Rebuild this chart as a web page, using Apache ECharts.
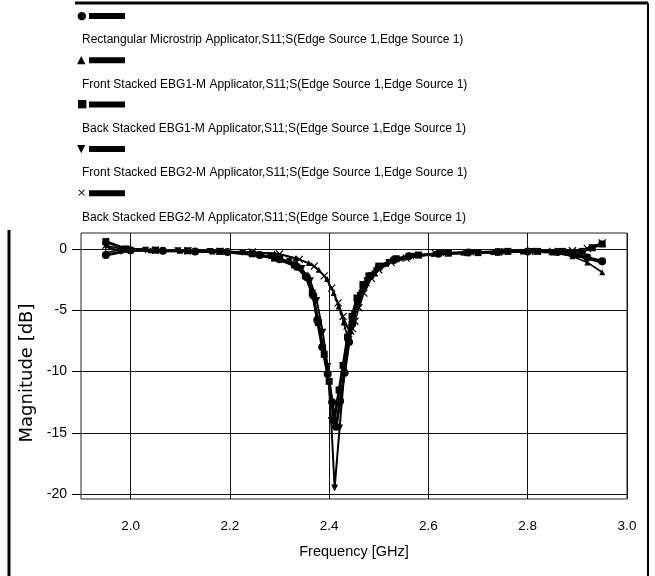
<!DOCTYPE html>
<html>
<head>
<meta charset="utf-8">
<script src="https://cdn.jsdelivr.net/npm/echarts@6/dist/echarts.min.js"></script>
<style>
html, body { margin: 0; padding: 0; background: #fff; }
#chart { width: 655px; height: 576px; }
</style>
</head>
<body>
<div id="chart"></div>
<script>
// axis ticks
var xTicks = [2.0, 2.2, 2.4, 2.6, 2.8, 3.0];
var yTicks = [0, -5, -10, -15, -20];

var names = [
    'Rectangular Microstrip Applicator,S11;S(Edge Source 1,Edge Source 1)',
    'Front Stacked EBG1-M Applicator,S11;S(Edge Source 1,Edge Source 1)',
    'Back Stacked EBG1-M Applicator,S11;S(Edge Source 1,Edge Source 1)',
    'Front Stacked EBG2-M Applicator,S11;S(Edge Source 1,Edge Source 1)',
    'Back Stacked EBG2-M Applicator,S11;S(Edge Source 1,Edge Source 1)'
];

// Rectangular (circle)
var freqRect = [1.95, 2.00, 2.065, 2.13, 2.195, 2.26, 2.30, 2.335, 2.355, 2.368, 2.376, 2.386, 2.397, 2.406, 2.414, 2.422, 2.431, 2.440, 2.447, 2.458, 2.470, 2.483, 2.50, 2.53, 2.56, 2.62, 2.68, 2.74, 2.80, 2.86, 2.89, 2.92, 2.95];
var s11Rect  = [-0.5, -0.1, -0.15, -0.2, -0.25, -0.5, -0.85, -1.45, -2.3, -3.8, -5.8, -8.0, -10.2, -12.5, -14.5, -12.4, -10.1, -7.6, -6.0, -4.2, -3.0, -2.2, -1.5, -0.9, -0.6, -0.4, -0.3, -0.25, -0.2, -0.25, -0.4, -0.7, -1.0];

// Front stacked EBG1 (triangle)
var freqF1 = [1.95, 1.985, 2.04, 2.10, 2.165, 2.23, 2.29, 2.332, 2.359, 2.379, 2.396, 2.409, 2.419, 2.429, 2.436, 2.439, 2.444, 2.449, 2.459, 2.476, 2.493, 2.515, 2.55, 2.61, 2.67, 2.73, 2.79, 2.85, 2.89, 2.92, 2.95];
var s11F1  = [-0.3, 0.0, -0.1, -0.15, -0.2, -0.25, -0.35, -0.75, -1.15, -1.7, -2.46, -3.6, -4.7, -6.0, -7.0, -7.3, -6.7, -5.8, -4.4, -2.8, -2.0, -1.2, -0.7, -0.4, -0.3, -0.25, -0.2, -0.3, -0.6, -1.1, -1.9];

// Back stacked EBG1 (square)
var freqB1 = [1.95, 1.99, 2.05, 2.115, 2.18, 2.245, 2.29, 2.33, 2.352, 2.366, 2.378, 2.39, 2.400, 2.410, 2.420, 2.428, 2.437, 2.446, 2.456, 2.468, 2.48, 2.50, 2.535, 2.58, 2.64, 2.70, 2.76, 2.82, 2.87, 2.91, 2.93, 2.95];
var s11B1  = [0.6, 0.0, -0.1, -0.15, -0.2, -0.4, -0.75, -1.3, -2.2, -3.6, -6.0, -8.6, -10.8, -14.0, -11.5, -9.5, -7.2, -5.5, -4.0, -2.9, -2.2, -1.4, -0.8, -0.5, -0.35, -0.3, -0.2, -0.2, -0.2, -0.2, 0.1, 0.4];

// Front stacked EBG2 (inverted triangle)
var freqF2 = [1.95, 1.98, 2.03, 2.095, 2.16, 2.225, 2.28, 2.32, 2.345, 2.362, 2.375, 2.387, 2.397, 2.404, 2.411, 2.421, 2.430, 2.440, 2.450, 2.462, 2.476, 2.495, 2.52, 2.57, 2.63, 2.69, 2.75, 2.81, 2.86, 2.90, 2.95];
var s11F2  = [0.2, -0.2, -0.1, -0.15, -0.2, -0.3, -0.6, -1.0, -1.6, -2.6, -4.2, -6.8, -9.6, -14.0, -19.5, -14.6, -10.3, -7.4, -5.3, -3.8, -2.6, -1.8, -1.1, -0.6, -0.35, -0.3, -0.25, -0.2, -0.3, -0.6, -1.1];

// Back stacked EBG2 (cross)
var freqB2 = [1.95, 1.99, 2.05, 2.115, 2.18, 2.245, 2.30, 2.34, 2.37, 2.39, 2.405, 2.418, 2.428, 2.436, 2.443, 2.447, 2.452, 2.46, 2.47, 2.485, 2.50, 2.525, 2.555, 2.614, 2.678, 2.741, 2.805, 2.85, 2.89, 2.92, 2.95];
var s11B2  = [0.3, -0.1, -0.1, -0.15, -0.2, -0.25, -0.4, -0.85, -1.4, -2.2, -3.2, -4.4, -5.5, -6.3, -6.7, -6.5, -5.9, -4.8, -3.6, -2.4, -1.7, -1.1, -0.75, -0.35, -0.3, -0.25, -0.2, -0.2, -0.15, 0.05, 0.5];

var sans = '"Liberation Sans", Arial, sans-serif';
var crossPath = 'path://M0,0L10,10M10,0L0,10';

function pairs(f, v) {
    var out = [];
    for (var i = 0; i < f.length; i++) out.push([f[i], v[i]]);
    return out;
}

var glyphs = ['\u25CF', '\u25B2', '\u25A0', '\u25BC', '\u00D7'];

function curve(name, f, v, symbol, size, width, rotate) {
    return {
        name: name,
        type: 'line',
        data: pairs(f, v),
        symbol: symbol,
        symbolSize: size,
        symbolRotate: rotate || 0,
        showAllSymbol: true,
        lineStyle: { color: '#000', width: width },
        itemStyle: { color: '#000', borderColor: '#000', borderWidth: symbol === crossPath ? 1.2 : 0 },
        z: 3,
        animation: false
    };
}

var chart = echarts.init(document.getElementById('chart'));
var option = {
    animation: false,
    backgroundColor: '#fff',
    legend: {
        data: names,
        orient: 'vertical',
        left: 71,
        top: 10,
        padding: 0,
        icon: 'none',
        itemWidth: 1,
        itemGap: 8.3,
        selectedMode: false,
        formatter: function (name) {
            var g = glyphs[names.indexOf(name)];
            return '{sym|' + g + '}{gap| }{bar| }\n{txt|' + name + '}';
        },
        textStyle: {
            rich: {
                sym: { fontFamily: 'DejaVu Sans', fontSize: 11, lineHeight: 26, color: '#000', width: 9 },
                gap: { width: 3, lineHeight: 26 },
                bar: { width: 36, height: 6, backgroundColor: '#000', lineHeight: 26 },
                txt: { fontFamily: sans, fontSize: 12, lineHeight: 22, color: '#000', padding: [0, 0, 0, 5] }
            }
        }
    },
    grid: {
        left: 81, right: 28, top: 233, bottom: 77,
        show: true, borderColor: '#222', borderWidth: 1
    },
    xAxis: {
        type: 'value',
        min: 1.9,
        max: 3.0,
        name: 'Frequency [GHz]',
        nameLocation: 'middle',
        nameGap: 45,
        nameTextStyle: { fontFamily: sans, fontSize: 14.5, color: '#000', verticalAlign: 'top' },
        axisLine: { show: false },
        axisTick: { show: true, customValues: xTicks, length: 17, lineStyle: { color: '#000' } },
        axisLabel: {
            customValues: xTicks, margin: 20, fontFamily: sans, fontSize: 13.5, color: '#000',
            formatter: function (v) { return v.toFixed(1); }
        },
        splitLine: { show: false }
    },
    yAxis: {
        type: 'value',
        min: -20.4,
        max: 1.3,
        name: 'Magnitude [dB]',
        nameLocation: 'middle',
        nameGap: 39,
        nameRotate: 90,
        nameTextStyle: { fontFamily: 'DejaVu Sans', fontSize: 18, color: '#000', padding: [0, 14, 0, 0] },
        axisLine: { show: false },
        axisTick: { show: true, customValues: yTicks, length: 9, lineStyle: { color: '#000' } },
        axisLabel: { customValues: yTicks, margin: 14, fontFamily: sans, fontSize: 14, color: '#000' },
        splitLine: { show: false }
    },
    graphic: [
        { type: 'line', shape: { x1: 75, y1: 3, x2: 648, y2: 3 }, style: { stroke: '#000', lineWidth: 3 } },
        { type: 'line', shape: { x1: 648, y1: 3, x2: 648, y2: 576 }, style: { stroke: '#000', lineWidth: 2 } },
        { type: 'line', shape: { x1: 9, y1: 230, x2: 9, y2: 576 }, style: { stroke: '#000', lineWidth: 3 } }
    ],
    series: [
        {
            name: 'grid',
            type: 'line',
            data: [],
            silent: true,
            z: 1,
            markLine: {
                silent: true,
                symbol: 'none',
                animation: false,
                label: { show: false },
                lineStyle: { color: '#111', width: 1, type: 'solid' },
                emphasis: { disabled: true },
                data: xTicks.map(function (v) { return { xAxis: v }; })
                    .concat(yTicks.map(function (v) { return { yAxis: v }; }))
            }
        },
        curve(names[0], freqRect, s11Rect, 'circle', 8, 2.8),
        curve(names[1], freqF1, s11F1, 'triangle', 6, 1.6),
        curve(names[2], freqB1, s11B1, 'rect', 7, 2.8),
        curve(names[3], freqF2, s11F2, 'triangle', 7, 2.0, 180),
        curve(names[4], freqB2, s11B2, crossPath, 7, 1.6)
    ]
};
chart.setOption(option);
</script>
</body>
</html>
